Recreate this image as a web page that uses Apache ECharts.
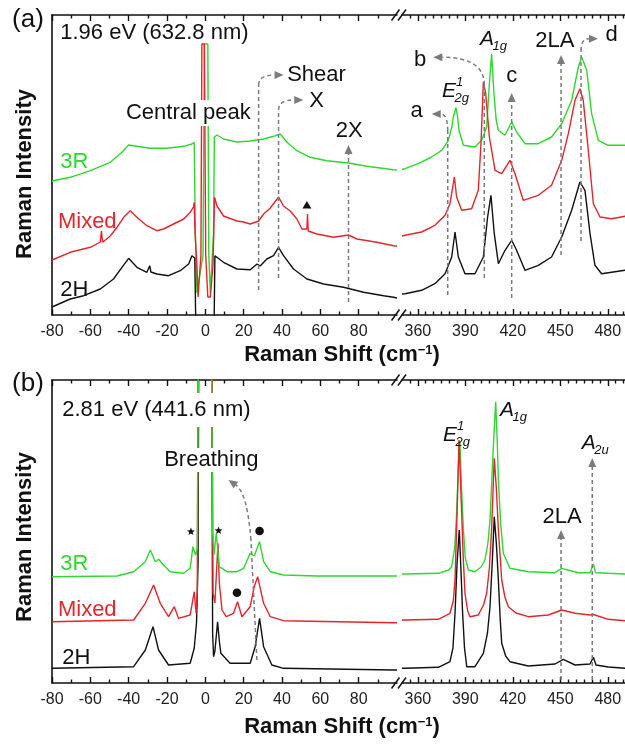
<!DOCTYPE html>
<html>
<head>
<meta charset="utf-8">
<script src="https://cdn.jsdelivr.net/npm/echarts@6/dist/echarts.min.js"></script>
<style>
  html, body { margin: 0; padding: 0; background: #fff; }
  #chart { width: 625px; height: 744px; }
</style>
</head>
<body>
<div id="chart"></div>
<script>
// ---- Axis ranges and ticks (Raman shift, cm^-1) ----
const lowRange = [-80, 100];
const highRange = [350, 495];
const lowMajorTicks = [-80, -60, -40, -20, 0, 20, 40, 60, 80];
const lowMinorTicks = [-70, -50, -30, -10, 10, 30, 50, 70, 90];
const highMajorTicks = [360, 390, 420, 450, 480];
const highMinorTicks = [355, 365, 370, 375, 380, 385, 395, 400, 405, 410, 415, 425, 430, 435, 440, 445, 455, 460, 465, 470, 475, 485, 490];
const intensityMaxA = 300;
const intensityMaxB = 303;

// ---- (a) 1.96 eV excitation: low-frequency region [shift, intensity] ----
const a3R_low = [[-80,134],[-79.2,134.3],[-70.5,137.7],[-60,144.3],[-49.6,152.7],[-43.5,162.7],[-40,170],[-35.7,168.7],[-28.7,166.7],[-20,166.7],[-11.3,168.7],[-7,171],[-5.8,172.7],[-5.2,83],[-4.4,22],[-3.4,22],[-1.2,60],[-0.5,271],[1.3,271],[1.8,60],[2.6,22],[3.6,22],[4.3,83],[4.7,178],[6.1,180],[9.5,176],[16.5,173],[23.4,174],[30.4,176],[35.6,178.7],[39.1,181],[42.6,172.7],[47.8,164.3],[54.7,157.7],[63.4,154.3],[74.7,152],[84.3,148.7],[98.2,145.3],[100,145]];
const aMixed_low = [[-80,55],[-79.2,56],[-70.5,62.7],[-60,67.7],[-54.8,73],[-54.2,84],[-53.6,72.7],[-49.6,79],[-46.1,87.7],[-42.6,97.7],[-39.2,104.3],[-35.7,97.7],[-30.5,89.3],[-25.3,84.3],[-21.8,86],[-16.6,91],[-11.3,96],[-7.9,102.7],[-6.2,108],[-5.8,112.7],[-5.4,83],[-4.4,50],[-3.8,18],[-3.1,18],[-2.3,60],[-1.8,271],[-0.5,271],[0.2,60],[1.3,18],[2.6,18],[3.4,18],[4,50],[4.4,83],[4.8,117.7],[6.1,109],[9.5,99],[16.5,94],[20,93],[23.4,91],[27.8,94],[30.4,101],[33.9,107],[38.2,118],[40.8,109],[44.3,104],[47.8,96],[50.4,86],[53,86],[53.3,101],[53.7,84],[54.7,83],[58.2,81],[66.9,77.7],[74.7,80],[79.1,76],[89.5,72.7],[98.2,69.3],[100,69]];
const a2H_low = [[-80,8],[-79.2,9.3],[-70.5,16],[-63.5,19.3],[-54.8,26],[-47.9,36],[-43.5,47.7],[-40,56.7],[-35.7,47.7],[-30.5,42.7],[-29,49.3],[-28.4,43],[-25.3,41],[-19.2,39.3],[-13.1,44.3],[-8.7,51],[-7,59.3],[-5.5,57],[-4.9,-20],[4.5,-20],[5,59.3],[5.7,59.3],[9.5,52.7],[16.5,46],[23.4,45.3],[27,51],[27.8,53],[28.6,49],[32.1,56],[35.6,59.3],[38.2,67.7],[40.8,59.3],[46,46],[53,36],[61.7,31],[72.1,27.7],[82.6,22.7],[93,19.3],[98.2,17.7],[100,17]];

// ---- (a) 1.96 eV excitation: high-frequency region ----
const a3R_high = [[350,145.5],[351.9,146.3],[360.3,151.3],[368.7,158],[375.1,164.7],[379.3,174.7],[381.5,188],[382.4,198],[384.1,207.3],[385,200],[386,184.7],[388.8,169.7],[396.1,168],[400.3,174.7],[403.5,188],[405.2,231.3],[406.6,261.3],[408.1,221.3],[409.5,195],[410.9,184.7],[415.1,179.7],[419.3,193],[422.4,183],[427.7,171.3],[436.1,171.3],[444.5,178],[450.9,191.3],[457.2,214.7],[461.4,248],[463.5,258],[466.7,244.7],[469.8,201.3],[474,174.7],[480.3,169.7],[490.9,169.7],[495,169.5]];
const aMixed_high = [[350,79],[351.9,79.7],[362.4,83],[370.8,89.7],[377.2,99.7],[380.3,111.3],[383.1,138],[384.5,118],[387.7,104.7],[394,106.3],[398.2,124.7],[399.9,171.3],[401.4,233],[402.9,221.3],[405.2,178],[408.8,144.7],[413,141.3],[418.2,154.7],[421.4,141.3],[426.6,114.7],[436.1,119.7],[444.5,129.7],[450.9,154.7],[455.1,181.3],[459.3,214.7],[462.4,226.3],[464.5,214.7],[467.7,164.7],[470.9,111.3],[475.1,98],[482.5,96.3],[490.9,98.7],[495,98]];
const a2H_high = [[350,21],[351.9,21.3],[362.4,24.7],[370.8,31.3],[377.2,41.3],[381.4,58],[383.5,83],[385.6,58],[389.8,41.3],[396.1,41.3],[401.4,58],[404.1,98],[406.2,119.7],[408.3,81.3],[410.9,51.3],[415.1,64.7],[419.3,74.7],[422.4,64.7],[427.7,44.7],[436.1,49.7],[444.5,58],[450.9,78],[457.2,104.7],[462.4,133],[465.6,124.7],[468.8,81.3],[471.9,49.7],[476.1,41.3],[490.9,44.7],[495,45]];

// ---- (b) 2.81 eV excitation: low-frequency region ----
const b3R_low = [[-80,106.3],[-79.2,106.3],[-46.1,107],[-37.4,111.3],[-31.3,121.3],[-28.7,133],[-26.1,121.3],[-24.4,123.7],[-21.8,118],[-18.3,111.3],[-11.3,109.7],[-7.9,114.7],[-6.5,136.3],[-5.1,128],[-4.2,135],[-3.3,400],[3,400],[3.8,150],[4.5,128],[5.7,149.7],[7.3,116.3],[11.3,111.3],[16.5,111.3],[20,114.7],[23.4,129.7],[25.5,127],[28.3,141.3],[30.4,121.3],[33.9,111.3],[40.8,108],[58.2,107],[98.2,107],[100,107]];
const bMixed_low = [[-80,61.3],[-79.2,61.3],[-37.4,63],[-31.3,79.7],[-27,98],[-23.5,79.7],[-19.2,66.3],[-16.2,76.3],[-14,64.7],[-7.9,68],[-5.8,91.3],[-4.8,69.7],[-4.2,90],[-3.7,400],[3.3,400],[4,90],[5,80],[6.6,139.7],[7.3,100],[8.7,73],[10.9,66.3],[14.7,69.7],[16.8,81.3],[19.1,66.3],[23.4,76.3],[25.5,96.3],[27.3,106.3],[30.4,79.7],[33.9,66.3],[40.8,62.3],[98.2,60.3],[100,60.3]];
const b2H_low = [[-80,14.7],[-79.2,14.7],[-37.4,16.3],[-31.3,33],[-27.3,56.3],[-24.4,33],[-19.2,18],[-7.9,19.7],[-5.8,34.7],[-4.6,60],[-3.8,120],[-3.3,400],[3.2,400],[3.8,50],[4.3,26.3],[5,32],[6.4,61.3],[7.3,42],[8.1,29.7],[12.9,19.7],[23.4,19.7],[26,36.3],[28.3,64.7],[30.4,36.3],[34.7,18],[40.8,14.7],[98.2,13],[100,13]];

// ---- (b) 2.81 eV excitation: high-frequency region ----
const b3R_high = [[350,109],[351.9,109],[373,109.7],[379.5,113],[381.4,116.3],[383.3,135],[384.5,169.7],[385.6,215],[386.6,241.3],[387.6,195],[388.8,153],[390,125],[391.9,113],[396.1,111.3],[400,116],[402.4,123],[404.3,140],[405.6,163],[406.8,205],[407.7,236.3],[409.2,281.3],[410.2,240],[410.9,203],[412.3,160],[414,129.7],[418.2,114.7],[429.8,111.3],[446.7,110.3],[450.9,114.7],[453,113.7],[461.4,110.3],[468.8,110.3],[470.9,119],[472.3,110.3],[480.3,109.7],[490.9,109],[495,109]];
const bMixed_high = [[350,63],[351.9,63],[373,63.7],[380.3,69.7],[382.4,82],[383.5,103],[384.8,170],[386,243],[386.9,205],[387.7,169.7],[388.7,125],[389.8,89.7],[391.5,72],[393,66.3],[398.2,68],[401.5,78],[403.5,89.7],[405.2,115],[406.6,153],[408.3,224.7],[409.6,195],[410.9,153],[413,103],[415,86],[417.2,76.3],[422,70],[429.8,66.3],[442.4,68],[450.9,73],[459.3,69.7],[468.8,68],[470.9,68.5],[480.3,63.7],[490.9,62.3],[495,62]];
const b2H_high = [[350,14.7],[351.9,14.7],[373,15.7],[380.3,21.3],[382.2,35],[383.5,69.7],[384.8,120],[386.2,153],[387.2,115],[388.3,69.7],[389.5,35],[390.9,16.3],[396.1,16.3],[401.4,29.7],[404,50],[405.6,76.3],[407,120],[408.3,166.3],[409.6,140],[410.9,103],[412,65],[413,39.7],[415.5,27],[418.2,21.3],[429.8,17],[446.7,19],[451.9,23.7],[459.3,18],[468.8,19],[470.9,25.7],[472.6,18],[480.3,16],[490.9,14.7],[495,14.7]];

// ---- Styling ----
const FONT = '"Liberation Sans", Arial, Helvetica, sans-serif';
const COL_3R = '#2ed82e';
const COL_MIX = '#e3262b';
const COL_2H = '#111111';
const AXIS_COL = '#111';
const ANNOT_COL = '#7b7b7b';

const grids = [
  { left: 52, top: 15, width: 345, height: 300 },
  { left: 402, top: 15, width: 229.5, height: 300 },
  { left: 52, top: 380, width: 345, height: 303 },
  { left: 402, top: 380, width: 229.5, height: 303 }
];

function xAxesFor(gridIndex, range, major, minor) {
  const base = { type: 'value', gridIndex, min: range[0], max: range[1], splitLine: { show: false } };
  const tickStyle = { color: AXIS_COL, width: 1.4 };
  const lineStyle = { color: AXIS_COL, width: 1.6 };
  return [
    Object.assign({}, base, {
      position: 'bottom',
      axisLine: { show: true, onZero: false, lineStyle },
      axisTick: { show: true, inside: true, length: 6, customValues: major, lineStyle: tickStyle },
      axisLabel: { show: true, customValues: major, fontSize: 16, color: '#222', margin: 9, fontFamily: FONT }
    }),
    Object.assign({}, base, {
      position: 'bottom',
      axisLine: { show: false, onZero: false },
      axisTick: { show: true, inside: true, length: 3.5, customValues: minor, lineStyle: tickStyle },
      axisLabel: { show: false }
    }),
    Object.assign({}, base, {
      position: 'top',
      axisLine: { show: true, onZero: false, lineStyle },
      axisTick: { show: true, inside: true, length: 6, customValues: major, lineStyle: tickStyle },
      axisLabel: { show: false }
    }),
    Object.assign({}, base, {
      position: 'top',
      axisLine: { show: false, onZero: false },
      axisTick: { show: true, inside: true, length: 3.5, customValues: minor, lineStyle: tickStyle },
      axisLabel: { show: false }
    })
  ];
}

function yAxisFor(gridIndex, max, showSpine) {
  return {
    type: 'value', gridIndex, min: 0, max,
    show: showSpine,
    axisLine: { show: showSpine, onZero: false, lineStyle: { color: AXIS_COL, width: 1.6 } },
    axisTick: { show: false }, axisLabel: { show: false }, splitLine: { show: false }
  };
}

function spectrum(name, data, color, g) {
  return {
    type: 'line', name, data, xAxisIndex: 4 * g, yAxisIndex: g,
    showSymbol: false, symbol: 'none', clip: true, silent: true, animation: false,
    lineStyle: { color, width: 1.4 }, itemStyle: { color }
  };
}

const chart = echarts.init(document.getElementById('chart'), null, { renderer: 'canvas' });

const option = {
  animation: false,
  backgroundColor: '#fff',
  grid: grids.map(g => Object.assign({ containLabel: false, outerBoundsMode: 'none' }, g)),
  xAxis: [].concat(
    xAxesFor(0, lowRange, lowMajorTicks, lowMinorTicks),
    xAxesFor(1, highRange, highMajorTicks, highMinorTicks),
    xAxesFor(2, lowRange, lowMajorTicks, lowMinorTicks),
    xAxesFor(3, highRange, highMajorTicks, highMinorTicks)
  ),
  yAxis: [
    yAxisFor(0, intensityMaxA, true),
    yAxisFor(1, intensityMaxA, false),
    yAxisFor(2, intensityMaxB, true),
    yAxisFor(3, intensityMaxB, false)
  ],
  series: [
    spectrum('3R', a3R_low, COL_3R, 0),
    spectrum('Mixed', aMixed_low, COL_MIX, 0),
    spectrum('2H', a2H_low, COL_2H, 0),
    spectrum('3R', a3R_high, COL_3R, 1),
    spectrum('Mixed', aMixed_high, COL_MIX, 1),
    spectrum('2H', a2H_high, COL_2H, 1),
    // laser-line region: 3R drawn last so its trace sits on top
    spectrum('2H', b2H_low, COL_2H, 2),
    spectrum('Mixed', bMixed_low, COL_MIX, 2),
    spectrum('3R', b3R_low, COL_3R, 2),
    spectrum('3R', b3R_high, COL_3R, 3),
    spectrum('Mixed', bMixed_high, COL_MIX, 3),
    spectrum('2H', b2H_high, COL_2H, 3)
  ]
};
chart.setOption(option);

// ---- Annotations (placed in data coordinates of each panel) ----
const P = (g, v, val) => chart.convertToPixel({ xAxisIndex: 4 * g, yAxisIndex: g }, [v, val]);
const gfx = [];

function text(x, y, str, opt) {
  opt = opt || {};
  gfx.push({
    type: 'text', x, y, z: 100, rotation: opt.rotation || 0,
    style: Object.assign({
      text: str, fill: opt.color || '#111',
      font: (opt.style || 'normal') + ' ' + (opt.weight || 'normal') + ' ' + (opt.size || 22) + 'px ' + FONT,
      align: opt.align || 'center', verticalAlign: 'middle'
    }, opt.extra || {})
  });
}
function dataText(g, v, val, str, opt) { const p = P(g, v, val); text(p[0], p[1], str, opt); }

function modeLabel(g, v, val, main, sup, sub) {
  const p = P(g, v, val);
  const x = p[0], y = p[1];
  text(x, y, main, { style: 'italic', size: 21, align: 'left' });
  if (sup) text(x + 14, y - 9, sup, { style: 'italic', size: 13, align: 'left' });
  if (sub) text(x + 12.5, y + 7, sub, { style: 'italic', size: 13, align: 'left' });
}

const dashStyle = { stroke: ANNOT_COL, lineWidth: 1.5, lineDash: [4, 3], fill: null };
function arrowHead(tip, dir) {
  const len = 9, half = 4;
  const bx = tip[0] - dir[0] * len, by = tip[1] - dir[1] * len;
  const px = -dir[1], py = dir[0];
  gfx.push({
    type: 'polygon', z: 100,
    shape: { points: [[tip[0], tip[1]], [bx + px * half, by + py * half], [bx - px * half, by - py * half]] },
    style: { fill: ANNOT_COL }
  });
  return [bx, by];
}
function norm(dx, dy) { const l = Math.hypot(dx, dy) || 1; return [dx / l, dy / l]; }

// pts: dashed stem in data coords; tip: arrow tip; ctrl: 'corner', a data point, or null
function arrow(g, pts, tip, ctrl) {
  const px = pts.map(p => P(g, p[0], p[1]));
  const T = P(g, tip[0], tip[1]);
  const B = px[px.length - 1];
  if (ctrl) {
    const C = ctrl === 'corner' ? [B[0], T[1]] : P(g, ctrl[0], ctrl[1]);
    const base = arrowHead(T, norm(T[0] - C[0], T[1] - C[1]));
    if (px.length > 1) gfx.push({ type: 'polyline', z: 99, shape: { points: px }, style: dashStyle });
    gfx.push({ type: 'bezierCurve', z: 99, shape: { x1: B[0], y1: B[1], x2: base[0], y2: base[1], cpx1: C[0], cpy1: C[1] }, style: dashStyle });
  } else {
    const base = arrowHead(T, norm(T[0] - B[0], T[1] - B[1]));
    gfx.push({ type: 'polyline', z: 99, shape: { points: px.concat([base]) }, style: dashStyle });
  }
}

function triangle(g, v, val) {
  const p = P(g, v, val);
  gfx.push({ type: 'polygon', z: 100, shape: { points: [[p[0], p[1] - 4], [p[0] - 4.5, p[1] + 3.5], [p[0] + 4.5, p[1] + 3.5]] }, style: { fill: '#111' } });
}
function dot(g, v, val) {
  const p = P(g, v, val);
  gfx.push({ type: 'circle', z: 100, shape: { cx: p[0], cy: p[1], r: 4.3 }, style: { fill: '#111' } });
}
function star(g, v, val) {
  const p = P(g, v, val);
  const pts = [];
  for (let i = 0; i < 10; i++) {
    const r = i % 2 === 0 ? 4.2 : 1.8;
    const a = -Math.PI / 2 + i * Math.PI / 5;
    pts.push([p[0] + r * Math.cos(a), p[1] + r * Math.sin(a)]);
  }
  gfx.push({ type: 'polygon', z: 100, shape: { points: pts }, style: { fill: '#111' } });
}

// Axis break marks between the two shift ranges
function breakMarks(gl, gr) {
  const l = P(gl, lowRange[1], 0), r = P(gr, highRange[0], 0);
  const lt = P(gl, lowRange[1], gl === 0 ? intensityMaxA : intensityMaxB);
  [l[1], lt[1]].forEach(y => {
    [l[0] - 1.5, r[0]].forEach(x => {
      gfx.push({ type: 'line', z: 101, shape: { x1: x - 4, y1: y + 5.5, x2: x + 4, y2: y - 5.5 }, style: { stroke: AXIS_COL, lineWidth: 1.5 } });
    });
  });
}
breakMarks(0, 1);
breakMarks(2, 3);

// Panel (a)
arrow(0, [[27.8, 25], [27.8, 230]], [40.8, 240], 'corner');
arrow(0, [[38.2, 37], [38.2, 205]], [51.1, 215], 'corner');
arrow(0, [[74.7, 13]], [74.7, 170], null);
dataText(0, 42.7, 240, 'Shear', { align: 'left' });
dataText(0, 54.2, 214, 'X', { align: 'left' });
dataText(0, 75.1, 184, '2X');
dataText(0, -8.9, 202, 'Central peak', { extra: { backgroundColor: '#fff', padding: [2, 2, 2, 2] } });
dataText(0, -75.7, 282, '1.96 eV (632.8 nm)', { align: 'left' });
dataText(0, -68.4, 153, '3R', { color: COL_3R });
dataText(0, -61.6, 93.5, 'Mixed', { color: COL_MIX });
dataText(0, -68.4, 25, '2H', { color: COL_2H });
triangle(0, 53.0, 110);

arrow(1, [[378.9, 20], [378.9, 184]], [368.8, 201], 'corner');
arrow(1, [[402, 37], [402, 230]], [369.8, 257.7], 'corner');
arrow(1, [[419.3, 17]], [419.3, 222], null);
arrow(1, [[450.5, 60]], [450.5, 260], null);
arrow(1, [[463.1, 74], [463.1, 264]], [473.8, 276.3], 'corner');
dataText(1, 359.3, 204, 'a');
dataText(1, 361.4, 255.5, 'b');
dataText(1, 419.3, 238.7, 'c');
dataText(1, 446.6, 273.7, '2LA');
dataText(1, 482.5, 280.3, 'd');
modeLabel(1, 375.3, 224, 'E', '1', '2g');
modeLabel(1, 399.3, 275.5, 'A', null, '1g');

// Panel (b)
dataText(2, -75.7, 273, '2.81 eV (441.6 nm)', { align: 'left', extra: { backgroundColor: '#fff', padding: [9, 2, 3, 2] } });
dataText(2, 3.1, 223, 'Breathing', { extra: { backgroundColor: '#fff', padding: [1, 2, 1, 2] } });
arrow(2, [[26.9, 23], [23.8, 143]], [12.1, 203], [21.9, 190]);
dataText(2, -68.4, 119, '3R', { color: COL_3R });
dataText(2, -61.6, 73, 'Mixed', { color: COL_MIX });
dataText(2, -67.3, 25, '2H', { color: COL_2H });
star(2, -7.5, 151.3);
star(2, 6.9, 152.3);
dot(2, 28.3, 152);
dot(2, 16.5, 90.3);

arrow(3, [[450.5, 3]], [450.5, 153], null);
arrow(3, [[470.2, 3]], [470.2, 225], null);
dataText(3, 451.1, 166.3, '2LA');
modeLabel(3, 375.9, 248, 'E', '1', '2g');
modeLabel(3, 411.9, 272.5, 'A', null, '1g');
modeLabel(3, 463.6, 239.5, 'A', null, '2u');

// Panel letters and axis titles
text(28, 20, '(a)', { size: 26 });
text(28, 384, '(b)', { size: 26 });
text(25, 174, 'Raman Intensity', { weight: 'bold', size: 22, rotation: Math.PI / 2 });
text(25, 537, 'Raman Intensity', { weight: 'bold', size: 22, rotation: Math.PI / 2 });
[355, 727].forEach(y => {
  gfx.push({
    type: 'text', x: 342, y, z: 100,
    style: {
      text: '{t|Raman Shift (cm}{s|\u22121}{t|)}',
      align: 'center', verticalAlign: 'middle',
      rich: {
        t: { font: 'bold 22px ' + FONT, fill: '#111' },
        s: { font: 'bold 13px ' + FONT, fill: '#111', verticalAlign: 'top' }
      }
    }
  });
});

chart.setOption({ graphic: { elements: gfx } });
</script>
</body>
</html>
